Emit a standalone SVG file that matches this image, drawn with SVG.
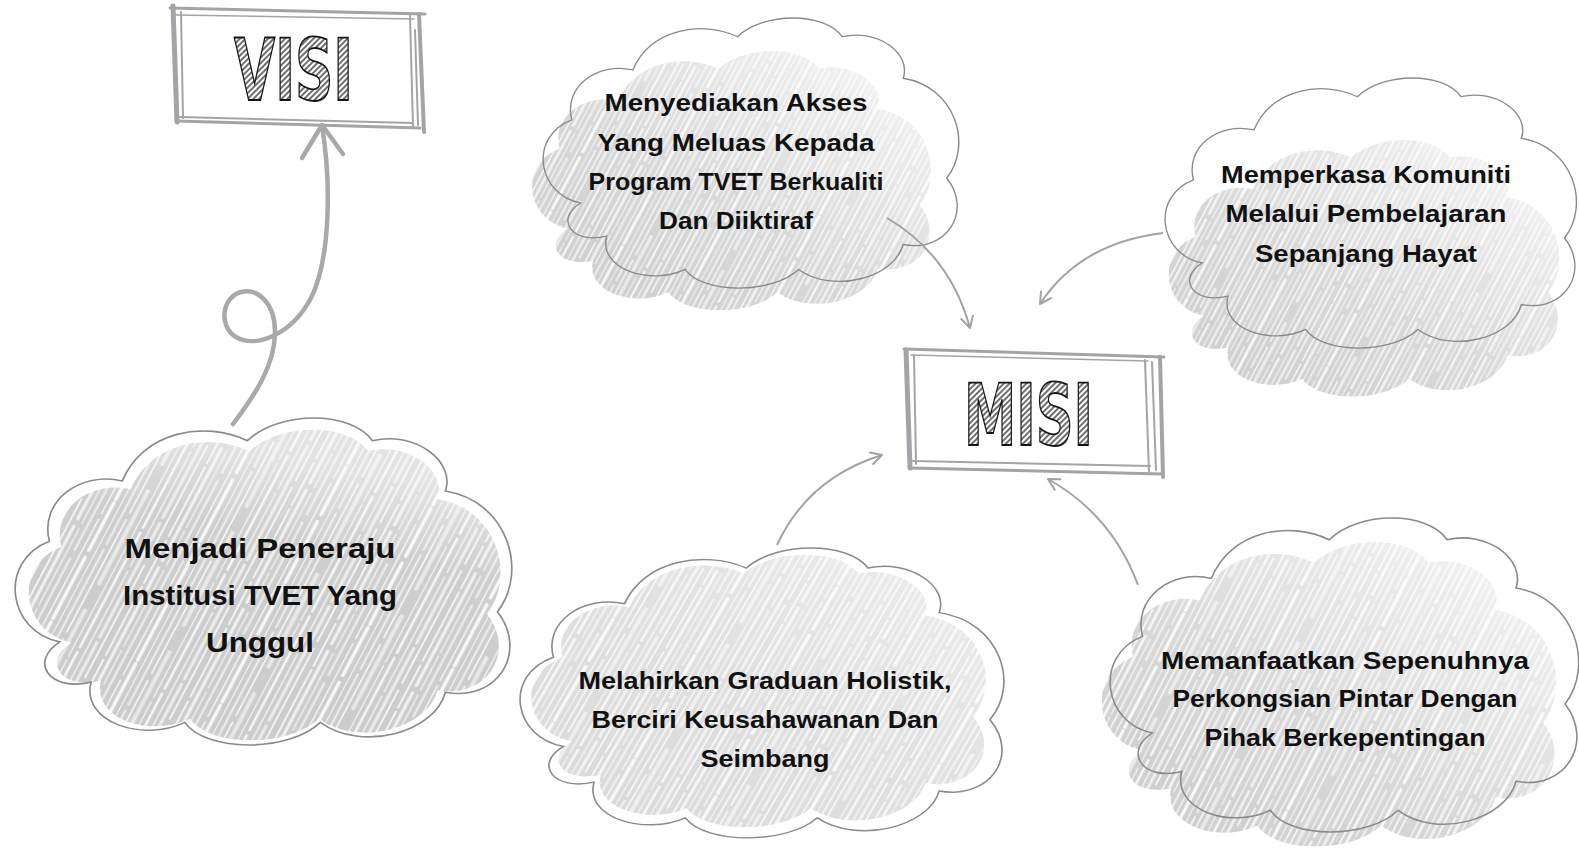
<svg xmlns="http://www.w3.org/2000/svg" xmlns:xlink="http://www.w3.org/1999/xlink" width="1579" height="865" viewBox="0 0 1579 865">
<style>
  .txt { font-family: "Liberation Sans", Arial, sans-serif; font-weight: bold; fill: #111; text-anchor: middle; }
  .t28 { font-size: 28px; }
  .t24 { font-size: 24px; }
  .title { font-family: "Liberation Sans Narrow", "DejaVu Sans Condensed", "Liberation Sans", sans-serif; font-weight: bold; font-size: 86px; fill: url(#hatch); stroke: #151515; stroke-width: 1.8; text-anchor: start; }
  .outline { fill: none; stroke: #8a8a8a; stroke-width: 1.6; }
  .frame { fill: none; stroke: #a4a3a8; stroke-linecap: round; }
  .conn { fill: none; stroke: #a3a3a6; stroke-width: 2; marker-end: url(#arr); }
</style>
<defs>
  <path id="cloud" d="M60,230 C10,220 0,150 50,130 C40,90 80,60 120,70 C140,20 200,10 240,30 C270,0 340,0 360,30 C400,20 440,50 430,80 C490,90 510,160 480,200 C510,240 480,290 430,280 C420,320 350,340 310,310 C280,340 200,340 180,310 C140,330 80,310 90,270 C50,280 30,250 60,230 Z"/>
  <pattern id="hatch" width="4" height="4" patternUnits="userSpaceOnUse" patternTransform="rotate(45)">
    <rect width="4" height="4" fill="#fff"/>
    <line x1="1" y1="0" x2="1" y2="4" stroke="#222" stroke-width="1.3"/>
  </pattern>
  <pattern id="scribble" width="96" height="140" patternUnits="userSpaceOnUse" patternTransform="rotate(27)">
    <rect width="96" height="140" fill="#cbcbcb"/>
    <g stroke="#fff" fill="none" stroke-linecap="round">
      <line x1="3" y1="0" x2="3" y2="140" stroke-width="1.5" stroke-dasharray="34 5 50 4 47"/>
      <line x1="9" y1="0" x2="9" y2="140" stroke-width="3" opacity="0.75" stroke-dasharray="60 8 72"/>
      <line x1="15" y1="0" x2="15" y2="140" stroke-width="1" stroke-dasharray="18 4 40 6 72"/>
      <line x1="21" y1="0" x2="21" y2="140" stroke-width="2.5" opacity="0.6" stroke-dasharray="90 10 40"/>
      <line x1="28" y1="0" x2="28" y2="140" stroke-width="1.2" stroke-dasharray="44 6 90"/>
      <line x1="34" y1="0" x2="34" y2="140" stroke-width="3.5" opacity="0.85" stroke-dasharray="24 4 56 8 48"/>
      <line x1="41" y1="0" x2="41" y2="140" stroke-width="1" opacity="0.9"/>
      <line x1="47" y1="0" x2="47" y2="140" stroke-width="2" opacity="0.7" stroke-dasharray="70 6 64"/>
      <line x1="53" y1="0" x2="53" y2="140" stroke-width="1.4" stroke-dasharray="30 8 102"/>
      <line x1="59" y1="0" x2="59" y2="140" stroke-width="4" opacity="0.55" stroke-dasharray="110 30"/>
      <line x1="66" y1="0" x2="66" y2="140" stroke-width="1" stroke-dasharray="52 4 84"/>
      <line x1="72" y1="0" x2="72" y2="140" stroke-width="2.6" opacity="0.8" stroke-dasharray="38 6 96"/>
      <line x1="79" y1="0" x2="79" y2="140" stroke-width="1.2" opacity="0.9" stroke-dasharray="80 5 55"/>
      <line x1="85" y1="0" x2="85" y2="140" stroke-width="3" opacity="0.65" stroke-dasharray="20 6 114"/>
      <line x1="91" y1="0" x2="91" y2="140" stroke-width="1.5" stroke-dasharray="64 8 68"/>
    </g>
  </pattern>
  <linearGradient id="gFull" x1="0" y1="1" x2="0.3" y2="0">
    <stop offset="0" stop-color="#fff"/>
    <stop offset="0.75" stop-color="#eee"/>
    <stop offset="1" stop-color="#888"/>
  </linearGradient>
  <linearGradient id="gDiag" x1="0" y1="1" x2="1" y2="0">
    <stop offset="0" stop-color="#fff"/>
    <stop offset="0.45" stop-color="#bbb"/>
    <stop offset="1" stop-color="#222"/>
  </linearGradient>
  <linearGradient id="gLight" x1="0" y1="1" x2="1" y2="0">
    <stop offset="0" stop-color="#bbb"/>
    <stop offset="0.5" stop-color="#999"/>
    <stop offset="1" stop-color="#555"/>
  </linearGradient>
  <mask id="mFull" maskContentUnits="objectBoundingBox"><rect width="1" height="1" fill="url(#gFull)"/></mask>
  <mask id="mDiag" maskContentUnits="objectBoundingBox"><rect width="1" height="1" fill="url(#gDiag)"/></mask>
  <mask id="mLight" maskContentUnits="objectBoundingBox"><rect width="1" height="1" fill="url(#gLight)"/></mask>
  <marker id="arr" viewBox="0 0 14 14" refX="13" refY="7" markerWidth="14" markerHeight="14" markerUnits="userSpaceOnUse" orient="auto">
    <path d="M2,1 L13,7 L2,13" fill="none" stroke="#a3a3a6" stroke-width="2" stroke-linecap="round" stroke-linejoin="round"/>
  </marker>
</defs>
<rect width="1579" height="865" fill="#fff"/>

<!-- Clouds -->
<g id="node-visi-statement">
  <g transform="translate(-2.7,410.5) scale(1.042,1.006)">
    <use href="#cloud" fill="url(#scribble)" mask="url(#mFull)" transform="translate(14,12) scale(0.95)"/>
    <use href="#cloud" class="outline" vector-effect="non-scaling-stroke"/>
  </g>
  <text class="txt t28" x="260" y="558" textLength="271" lengthAdjust="spacingAndGlyphs">Menjadi Peneraju</text>
  <text class="txt t28" x="260" y="605" textLength="274" lengthAdjust="spacingAndGlyphs">Institusi TVET Yang</text>
  <text class="txt t28" x="260" y="652" textLength="108" lengthAdjust="spacingAndGlyphs">Unggul</text>
</g>

<g id="node-misi-1">
  <g transform="translate(528.2,11.8) scale(0.872,0.831)">
    <use href="#cloud" fill="url(#scribble)" mask="url(#mDiag)" transform="translate(-12,40) scale(0.96)"/>
    <use href="#cloud" class="outline" vector-effect="non-scaling-stroke"/>
  </g>
  <text class="txt t24" x="736" y="111" textLength="263" lengthAdjust="spacingAndGlyphs">Menyediakan Akses</text>
  <text class="txt t24" x="736" y="151" textLength="277" lengthAdjust="spacingAndGlyphs">Yang Meluas Kepada</text>
  <text class="txt t24" x="736" y="190" textLength="295" lengthAdjust="spacingAndGlyphs">Program TVET Berkualiti</text>
  <text class="txt t24" x="736" y="229" textLength="154" lengthAdjust="spacingAndGlyphs">Dan Diiktiraf</text>
</g>

<g id="node-misi-2">
  <g transform="translate(1150.3,71.8) scale(0.863,0.831)">
    <use href="#cloud" fill="url(#scribble)" mask="url(#mDiag)" transform="translate(5,75) scale(0.95)"/>
    <use href="#cloud" class="outline" vector-effect="non-scaling-stroke"/>
  </g>
  <text class="txt t24" x="1366" y="183" textLength="290" lengthAdjust="spacingAndGlyphs">Memperkasa Komuniti</text>
  <text class="txt t24" x="1366" y="222" textLength="281" lengthAdjust="spacingAndGlyphs">Melalui Pembelajaran</text>
  <text class="txt t24" x="1366" y="262" textLength="222" lengthAdjust="spacingAndGlyphs">Sepanjang Hayat</text>
</g>

<g id="node-misi-3">
  <g transform="translate(502.7,541.3) scale(1.015,0.892)">
    <use href="#cloud" fill="url(#scribble)" mask="url(#mLight)" transform="translate(12,8) scale(0.94)"/>
    <use href="#cloud" class="outline" vector-effect="non-scaling-stroke"/>
  </g>
  <text class="txt t24" x="765" y="689" textLength="373" lengthAdjust="spacingAndGlyphs">Melahirkan Graduan Holistik,</text>
  <text class="txt t24" x="765" y="728" textLength="347" lengthAdjust="spacingAndGlyphs">Berciri Keusahawanan Dan</text>
  <text class="txt t24" x="765" y="767" textLength="129" lengthAdjust="spacingAndGlyphs">Seimbang</text>
</g>

<g id="node-misi-4">
  <g transform="translate(1093.3,510.8) scale(0.983,0.966)">
    <use href="#cloud" fill="url(#scribble)" mask="url(#mDiag)" transform="translate(-8,25) scale(0.97)"/>
    <use href="#cloud" class="outline" vector-effect="non-scaling-stroke"/>
  </g>
  <text class="txt t24" x="1345" y="669" textLength="368" lengthAdjust="spacingAndGlyphs">Memanfaatkan Sepenuhnya</text>
  <text class="txt t24" x="1345" y="707" textLength="345" lengthAdjust="spacingAndGlyphs">Perkongsian Pintar Dengan</text>
  <text class="txt t24" x="1345" y="746" textLength="281" lengthAdjust="spacingAndGlyphs">Pihak Berkepentingan</text>
</g>

<!-- Title boxes -->
<g id="node-visi">
  <path d="M176,12 L416,18 L418,122 L180,118 Z" fill="#fff"/>
  <path class="frame" stroke-width="3" d="M170,8 L425,14"/>
  <path class="frame" stroke-width="1.5" d="M176,15 L414,19"/>
  <path class="frame" stroke-width="5" d="M173,6 L177,122"/>
  <path class="frame" stroke-width="2" d="M181,12 L183,118"/>
  <path class="frame" stroke-width="2" d="M180,117 L413,123"/>
  <path class="frame" stroke-width="3" d="M176,121 L420,128"/>
  <path class="frame" stroke-width="2" d="M410,16 L413,127"/>
  <path class="frame" stroke-width="4" d="M419,14 L424,132"/>
  <path class="frame" stroke-width="2" d="M415,30 L418,125"/>
  <text class="title" x="234" y="100" textLength="119" lengthAdjust="spacingAndGlyphs">VISI</text>
</g>

<g id="node-misi">
  <path d="M908,352 L1150,358 L1152,465 L913,461 Z" fill="#fff"/>
  <path class="frame" stroke-width="3" d="M904,349 L1164,357"/>
  <path class="frame" stroke-width="1.5" d="M911,355 L1148,361"/>
  <path class="frame" stroke-width="5" d="M906,350 L910,468"/>
  <path class="frame" stroke-width="2" d="M914,355 L916,464"/>
  <path class="frame" stroke-width="2" d="M913,461 L1150,466"/>
  <path class="frame" stroke-width="3" d="M910,468 L1162,474"/>
  <path class="frame" stroke-width="2" d="M1145,360 L1149,472"/>
  <path class="frame" stroke-width="4" d="M1160,357 L1163,477"/>
  <path class="frame" stroke-width="2" d="M1152,362 L1156,470"/>
  <text class="title" x="964" y="445" textLength="129" lengthAdjust="spacingAndGlyphs">MISI</text>
</g>

<!-- Connectors -->
<g id="connectors">
  <g fill="none" stroke="#a9a8ad" stroke-width="4.5" stroke-linecap="round" stroke-linejoin="round">
    <path d="M233,424 C255,395 275,365 275,332 C275,302 257,288 241,292 C222,297 218,326 236,337 C256,349 292,334 311,298 C331,258 331,180 322,126"/>
    <path d="M302,158 L322,125 L343,154"/>
  </g>
  <path class="conn" d="M887,218 Q950,255 970,328"/>
  <path class="conn" d="M1163,233 Q1080,243 1040,304"/>
  <path class="conn" d="M777,545 Q808,478 882,455"/>
  <path class="conn" d="M1138,585 Q1112,515 1048,479"/>
</g>
</svg>
